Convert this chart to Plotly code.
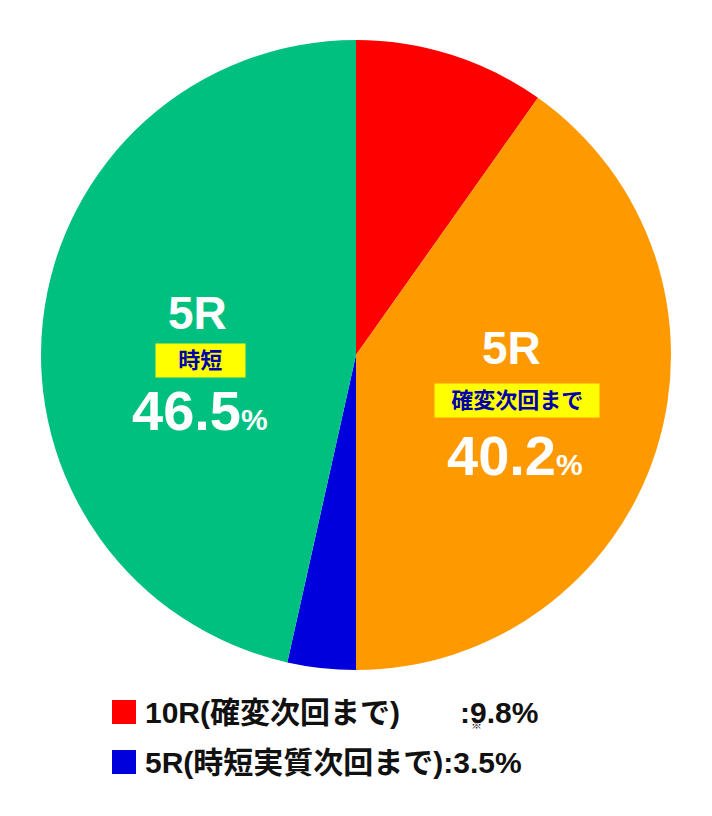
import plotly.graph_objects as go

labels = ["10R(確変次回まで)", "5R(確変次回まで)", "5R(時短実質次回まで)", "5R(時短)"]
values = [9.8, 40.2, 3.5, 46.5]
colors = ["#FF0000", "#FF9900", "#0000DD", "#00C080"]

W, H = 712, 816
OFF = 8  # page body margin
px = lambda x: (x - OFF) / W
py = lambda y: 1 - (y - OFF) / H
font = "Liberation Sans, Noto Sans CJK JP"

fig = go.Figure(go.Pie(
    labels=labels, values=values, sort=False, direction="clockwise", rotation=0,
    marker=dict(colors=colors, line=dict(width=0)), textinfo="none", hoverinfo="label+percent",
    domain=dict(x=[px(41), px(671)], y=[py(670), py(40)]),
))

ann = []
def txt(x, y, t, size, color="white", bg=None, pad=0):
    ann.append(dict(x=px(x), y=py(y), xref="paper", yref="paper", text=t, showarrow=False,
                    xanchor="center", yanchor="middle",
                    font=dict(family=font, size=size, color=color), bgcolor=bg, borderpad=pad))

# left slice labels
txt(197, 313, "<b>5R</b>", 46)
txt(200, 360, "<b>   時短   </b>", 22, "#0000AA", "#FFFF00", 4)
txt(200, 410, "<b>46.5<span style='font-size:30px'>%</span></b>", 56)
# right slice labels
txt(512, 348, "<b>5R</b>", 46)
txt(517, 400, "<b>  確変次回まで  </b>", 22, "#0000AA", "#FFFF00", 4)
txt(515, 455, "<b>40.2<span style='font-size:30px'>%</span></b>", 56)

# legend rows
legend_rows = [("10R(確変次回まで)", "　　:9.8%"), ("5R(時短実質次回まで)", ":3.5%")]
for i, (name, pct) in enumerate(legend_rows):
    y = 712 + i * 50
    fig.add_shape(type="rect", xref="paper", yref="paper",
                  x0=px(112), x1=px(136), y0=py(y + 12), y1=py(y - 12),
                  fillcolor=colors[0 if i == 0 else 2], line=dict(width=0))
    ann.append(dict(x=px(143), y=py(y), xref="paper", yref="paper", xanchor="left", yanchor="middle",
                    text="<b>" + name + pct + "</b>", showarrow=False,
                    font=dict(family=font, size=30, color="#111111")))
ann.append(dict(x=px(476), y=py(733), xref="paper", yref="paper", text="※", showarrow=False,
                xanchor="center", yanchor="bottom",
                font=dict(family=font, size=11, color="#111111")))

fig.update_layout(width=W, height=H, margin=dict(l=0, r=0, t=0, b=0), showlegend=False,
                  paper_bgcolor="white", annotations=ann)
fig.write_html("out.html")
